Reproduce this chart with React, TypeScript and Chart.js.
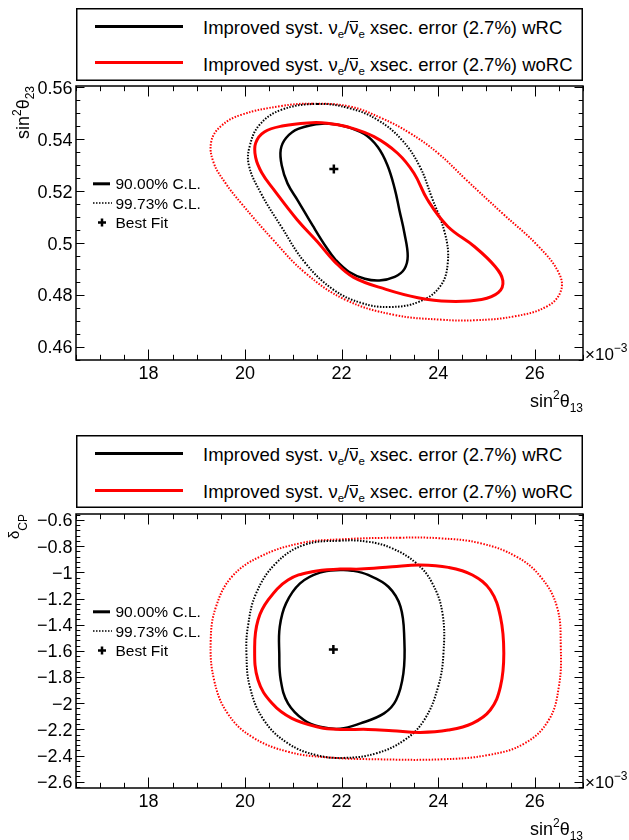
import React, { useEffect, useRef } from 'react';
import { Chart, registerables } from 'chart.js';

Chart.register(...registerables);

const FONT = '"Liberation Sans", Arial, Helvetica, sans-serif';

// ---------------- shared x axis: sin^2(theta13) (x 1e-3) ----------------
const X_MIN = 16.5;
const X_MAX = 27.0;
const xTickValues = [18, 20, 22, 24, 26];
const xTickLabels = ['18', '20', '22', '24', '26'];

// ---------------- panel 1: sin^2(theta23) ----------------
const th23TickValues = [0.46, 0.48, 0.5, 0.52, 0.54, 0.56];
const th23TickLabels = ['0.46', '0.48', '0.5', '0.52', '0.54', '0.56'];

// wRC 90% (black solid)
const th23_wRC90_x = [21.60, 21.10, 20.85, 20.74, 20.76, 20.88, 21.10, 21.40, 21.68, 21.88, 22.15, 22.48, 22.78, 23.10, 23.30, 23.37, 23.30, 23.20, 23.10, 22.95, 22.75, 22.47, 22.06];
const th23_wRC90_y = [0.5460, 0.5440, 0.5405, 0.5360, 0.5300, 0.5230, 0.5162, 0.5068, 0.4985, 0.4935, 0.4890, 0.4863, 0.4856, 0.4870, 0.4900, 0.4950, 0.5040, 0.5125, 0.5210, 0.5300, 0.5370, 0.5420, 0.5450];
// wRC 99.73% (black dotted)
const th23_wRC997_x = [21.50, 20.75, 20.30, 20.10, 20.08, 20.33, 20.75, 21.25, 21.83, 22.42, 23.00, 23.60, 24.04, 24.20, 24.14, 23.86, 23.62, 23.25, 22.75, 22.17];
const th23_wRC997_y = [0.5536, 0.5513, 0.5455, 0.5375, 0.5300, 0.5192, 0.5064, 0.4923, 0.4821, 0.4769, 0.4754, 0.4774, 0.4833, 0.4925, 0.5038, 0.5180, 0.5295, 0.5397, 0.5474, 0.5519];
// woRC 90% (red solid)
const th23_woRC90_x = [21.30, 20.80, 20.40, 20.22, 20.22, 20.35, 20.60, 21.08, 21.50, 21.85, 22.25, 22.92, 23.58, 24.21, 24.90, 25.25, 25.34, 25.18, 24.75, 24.20, 23.78, 23.50, 23.16, 22.67, 22.12, 21.70];
const th23_woRC90_y = [0.5463, 0.5452, 0.5428, 0.5385, 0.5330, 0.5270, 0.5205, 0.5090, 0.5005, 0.4930, 0.4868, 0.4822, 0.4790, 0.4776, 0.4783, 0.4810, 0.4855, 0.4910, 0.4987, 0.5064, 0.5167, 0.5269, 0.5346, 0.5410, 0.5448, 0.5462];
// woRC 99.73% (red dotted)
const th23_woRC997_x = [21.40, 20.75, 19.92, 19.50, 19.30, 19.35, 19.60, 19.92, 20.58, 21.25, 22.08, 23.08, 24.08, 24.75, 25.58, 26.25, 26.54, 26.50, 26.08, 25.33, 24.58, 24.00, 23.42, 22.83, 22.17];
const th23_woRC997_y = [0.5537, 0.5528, 0.5494, 0.5450, 0.5390, 0.5310, 0.5230, 0.5154, 0.5013, 0.4885, 0.4782, 0.4724, 0.4705, 0.4703, 0.4718, 0.4756, 0.4815, 0.4885, 0.4987, 0.5115, 0.5244, 0.5346, 0.5423, 0.5481, 0.5526];
const th23_best = { x: 21.84, y: 0.5285 };

// ---------------- panel 2: delta_CP ----------------
const dcpTickValues = [-0.6, -0.8, -1, -1.2, -1.4, -1.6, -1.8, -2, -2.2, -2.4, -2.6];
const dcpTickLabels = ['\u22120.6', '\u22120.8', '\u22121', '\u22121.2', '\u22121.4', '\u22121.6', '\u22121.8', '\u22122', '\u22122.2', '\u22122.4', '\u22122.6'];

const dcp_wRC90_x = [21.97, 21.55, 21.14, 20.85, 20.72, 20.71, 20.74, 20.89, 21.22, 21.55, 21.97, 22.39, 22.88, 23.13, 23.28, 23.30, 23.22, 22.97, 22.55, 22.22];
const dcp_wRC90_y = [-0.982, -1.002, -1.084, -1.237, -1.415, -1.619, -1.823, -2.001, -2.129, -2.180, -2.195, -2.154, -2.078, -1.976, -1.772, -1.517, -1.262, -1.110, -1.020, -0.987];
const dcp_wRC997_x = [21.97, 21.22, 20.64, 20.23, 20.06, 20.03, 20.10, 20.39, 20.89, 21.47, 22.05, 22.72, 23.30, 23.71, 24.00, 24.11, 24.09, 23.88, 23.55, 23.05, 22.55];
const dcp_wRC997_y = [-0.758, -0.791, -0.931, -1.161, -1.415, -1.619, -1.874, -2.129, -2.307, -2.396, -2.418, -2.383, -2.282, -2.129, -1.874, -1.619, -1.313, -1.084, -0.931, -0.817, -0.766];
const dcp_woRC90_x = [21.97, 21.39, 20.89, 20.48, 20.27, 20.20, 20.27, 20.56, 20.97, 21.55, 21.97, 22.55, 23.05, 23.63, 24.21, 24.71, 25.08, 25.29, 25.36, 25.29, 25.08, 24.71, 24.21, 23.63, 23.05, 22.39];
const dcp_woRC90_y = [-0.975, -0.995, -1.059, -1.211, -1.364, -1.568, -1.823, -2.001, -2.116, -2.185, -2.200, -2.200, -2.210, -2.223, -2.205, -2.154, -2.052, -1.874, -1.619, -1.339, -1.135, -1.020, -0.962, -0.944, -0.957, -0.975];
const dcp_woRC997_x = [23.22, 21.97, 21.14, 20.31, 19.73, 19.40, 19.29, 19.36, 19.64, 20.14, 20.89, 21.72, 22.80, 24.05, 25.04, 25.79, 26.29, 26.50, 26.54, 26.46, 26.12, 25.62, 24.88, 24.05];
const dcp_woRC997_y = [-0.735, -0.748, -0.778, -0.880, -1.033, -1.262, -1.517, -1.823, -2.078, -2.256, -2.371, -2.414, -2.429, -2.429, -2.396, -2.307, -2.129, -1.874, -1.568, -1.262, -1.033, -0.880, -0.778, -0.740];
const dcp_best = { x: 21.83, y: -1.59 };

const innerLegendLabels = ['90.00% C.L.', '99.73% C.L.', 'Best Fit'];
const bigLegendSuffixes = ['wRC', 'woRC'];

// ---------------- layout ----------------
const W = 629;
const H = 420;
const AREA_LEFT = 76;
const AREA_RIGHT = 583;

type Part = { t: string; size: number; dy?: number };

function drawRich(ctx: CanvasRenderingContext2D, parts: Part[], x: number, y: number, align: 'left' | 'right') {
  let w = 0;
  for (const p of parts) {
    ctx.font = `${p.size}px ${FONT}`;
    w += ctx.measureText(p.t).width;
  }
  let cx = align === 'right' ? x - w : x;
  ctx.textAlign = 'left';
  ctx.textBaseline = 'alphabetic';
  for (const p of parts) {
    ctx.font = `${p.size}px ${FONT}`;
    ctx.fillText(p.t, cx, y + (p.dy || 0));
    cx += ctx.measureText(p.t).width;
  }
}

function loopPlugin() {
  return {
    id: 'closedLoops',
    afterDatasetsUpdate(chart: any) {
      chart.data.datasets.forEach((ds: any, i: number) => {
        if (ds.closed) {
          const el = chart.getDatasetMeta(i).dataset;
          if (el) {
            el._loop = true;
            el._fullLoop = true;
            el._pointsUpdated = false;
            delete el._segments;
            delete el._path;
          }
        }
      });
    },
  };
}

type FrameCfg = {
  yTickValues: number[];
  yTickLabels: string[];
  yMinorStep: number;
  yTitle: Part[];
  yTitleX: number;
};

function framePlugin(cfg: FrameCfg) {
  return {
    id: 'rootFrame',
    afterDraw(chart: any) {
      const { ctx, chartArea: a, scales } = chart;
      const xs = scales.x;
      const ys = scales.y;
      ctx.save();
      ctx.strokeStyle = '#000';
      ctx.fillStyle = '#000';
      const seg = (x1: number, y1: number, x2: number, y2: number) => {
        ctx.beginPath();
        ctx.moveTo(x1, y1);
        ctx.lineTo(x2, y2);
        ctx.stroke();
      };
      // ticks
      ctx.lineWidth = 1;
      const xMaj = 10.5, xMin = 5.2, yMaj = 8.5, yMin = 4.3;
      const xStepMinor = (xTickValues[1] - xTickValues[0]) / 4;
      for (let k = -20; k <= 40; k++) {
        const v = xTickValues[0] + k * xStepMinor;
        if (v < X_MIN - 1e-9 || v > X_MAX + 1e-9) continue;
        const isMajor = Math.abs(k % 4) === 0;
        const len = isMajor ? xMaj : xMin;
        const p = Math.round(xs.getPixelForValue(v)) + 0.5;
        seg(p, a.bottom, p, a.bottom - len);
        seg(p, a.top, p, a.top + len);
      }
      const yv0 = cfg.yTickValues[0];
      const yMajStep = Math.abs(cfg.yTickValues[1] - cfg.yTickValues[0]);
      const nSub = Math.round(yMajStep / cfg.yMinorStep);
      for (let k = -200; k <= 200; k++) {
        const v = yv0 + k * cfg.yMinorStep;
        if (v < ys.min - 1e-9 || v > ys.max + 1e-9) continue;
        const isMajor = Math.abs(k % nSub) === 0;
        const len = isMajor ? yMaj : yMin;
        const p = Math.round(ys.getPixelForValue(v)) + 0.5;
        seg(a.left, p, a.left + len, p);
        seg(a.right, p, a.right - len, p);
      }
      // frame
      ctx.lineWidth = 1.5;
      ctx.strokeRect(a.left, a.top, a.right - a.left, a.bottom - a.top);
      // tick labels
      ctx.font = `18px ${FONT}`;
      ctx.textBaseline = 'alphabetic';
      ctx.textAlign = 'center';
      xTickValues.forEach((v, i) => {
        ctx.fillText(xTickLabels[i], xs.getPixelForValue(v), a.bottom + 18.5);
      });
      ctx.textAlign = 'right';
      cfg.yTickValues.forEach((v, i) => {
        ctx.fillText(cfg.yTickLabels[i], a.left - 3.5, ys.getPixelForValue(v) + 6.4);
      });
      // x title
      drawRich(ctx, [
        { t: 'sin', size: 18 },
        { t: '2', size: 12, dy: -8 },
        { t: '\u03b8', size: 18 },
        { t: '13', size: 12, dy: 5 },
      ], a.right, a.bottom + 47, 'right');
      // exponent
      drawRich(ctx, [
        { t: '\u00d710', size: 17 },
        { t: '\u22123', size: 12, dy: -8 },
      ], a.right + 2, a.bottom - 0.5, 'left');
      // y title (rotated)
      ctx.save();
      ctx.translate(cfg.yTitleX, a.top);
      ctx.rotate(-Math.PI / 2);
      drawRich(ctx, cfg.yTitle, 0, 0, 'right');
      ctx.restore();
      // inner legend
      const rows = [a.top + 97.8, a.top + 117, a.top + 136.5];
      ctx.lineWidth = 3;
      seg(93, rows[0], 110, rows[0]);
      ctx.lineWidth = 1.5;
      ctx.setLineDash([1.5, 1.5]);
      seg(93, rows[1], 112, rows[1]);
      ctx.setLineDash([]);
      ctx.lineWidth = 2.5;
      seg(98, rows[2], 106, rows[2]);
      seg(102, rows[2] - 4, 102, rows[2] + 4);
      ctx.font = `15.5px ${FONT}`;
      ctx.textAlign = 'left';
      innerLegendLabels.forEach((t, i) => ctx.fillText(t, 115.5, rows[i] + 5.6));
      ctx.restore();
    },
  };
}

function loopDs(xs: number[], ys: number[], color: string, width: number, dotted: boolean) {
  return {
    data: xs.map((x, i) => ({ x, y: ys[i] })),
    showLine: true,
    closed: true,
    borderColor: color,
    backgroundColor: color,
    borderWidth: width,
    borderDash: dotted ? [1.5, 1.5] : [],
    borderCapStyle: 'butt',
    borderJoinStyle: 'round',
    pointRadius: 0,
    pointHoverRadius: 0,
    tension: 0.4,
    fill: false,
  };
}

function bestDs(p: { x: number; y: number }) {
  return {
    data: [p],
    showLine: false,
    pointStyle: 'cross',
    pointRadius: 4.5,
    pointBorderWidth: 2.5,
    pointBorderColor: '#000',
    pointBackgroundColor: '#000',
  };
}

type PanelDef = {
  top: number;
  legendTop: number;
  areaTop: number;
  areaBottom: number;
  yMin: number;
  yMax: number;
  datasets: any[];
  frame: FrameCfg;
};

const panels: PanelDef[] = [
  {
    top: 0,
    legendTop: 7.5,
    areaTop: 86,
    areaBottom: 360,
    yMin: 0.455,
    yMax: 0.5605,
    datasets: [
      bestDs(th23_best),
      loopDs(th23_woRC90_x, th23_woRC90_y, '#ff0000', 3, false),
      loopDs(th23_wRC90_x, th23_wRC90_y, '#000000', 2.5, false),
      loopDs(th23_wRC997_x, th23_wRC997_y, '#000000', 2, true),
      loopDs(th23_woRC997_x, th23_woRC997_y, '#ff0000', 2, true),
    ],
    frame: {
      yTickValues: th23TickValues,
      yTickLabels: th23TickLabels,
      yMinorStep: 0.005,
      yTitle: [
        { t: 'sin', size: 18 },
        { t: '2', size: 12, dy: -8 },
        { t: '\u03b8', size: 18 },
        { t: '23', size: 12, dy: 5 },
      ],
      yTitleX: 28.5,
    },
  },
  {
    top: 420,
    legendTop: 14.7,
    areaTop: 94,
    areaBottom: 368,
    yMin: -2.648,
    yMax: -0.554,
    datasets: [
      bestDs(dcp_best),
      loopDs(dcp_woRC90_x, dcp_woRC90_y, '#ff0000', 3, false),
      loopDs(dcp_wRC90_x, dcp_wRC90_y, '#000000', 2.5, false),
      loopDs(dcp_wRC997_x, dcp_wRC997_y, '#000000', 2, true),
      loopDs(dcp_woRC997_x, dcp_woRC997_y, '#ff0000', 2, true),
    ],
    frame: {
      yTickValues: dcpTickValues,
      yTickLabels: dcpTickLabels,
      yMinorStep: 0.04,
      yTitle: [
        { t: '\u03b4', size: 15 },
        { t: 'CP', size: 12, dy: 8 },
      ],
      yTitleX: 18.7,
    },
  },
];

const subStyle: React.CSSProperties = { fontSize: '0.62em', verticalAlign: '-0.32em', lineHeight: 0 };

function Nubar() {
  return (
    <span style={{ position: 'relative', display: 'inline-block' }}>
      {'\u03bd'}
      <span style={{ position: 'absolute', left: '0.06em', right: '0.04em', top: '0.17em', borderTop: '1.4px solid #000' }} />
    </span>
  );
}

function BigLegend({ top }: { top: number }) {
  const lineRows = [18.7, 55.4];
  const baseRows = [27.4, 64.1];
  const colors = ['#000000', '#ff0000'];
  return (
    <div
      style={{
        position: 'absolute',
        left: AREA_LEFT,
        top,
        width: AREA_RIGHT - AREA_LEFT,
        height: 73.5,
        background: '#fff',
        boxShadow: 'inset 0 0 0 1.5px #000',
      }}
    >
      {bigLegendSuffixes.map((suf, i) => (
        <React.Fragment key={suf}>
          <div style={{ position: 'absolute', left: 19, width: 88, top: lineRows[i] - 1.5, height: 3, background: colors[i] }} />
          <div
            style={{
              position: 'absolute',
              left: 127,
              top: baseRows[i] - 16.8,
              fontFamily: FONT,
              fontSize: 18.5,
              lineHeight: '20px',
              whiteSpace: 'nowrap',
              color: '#000',
            }}
          >
            Improved syst. {'\u03bd'}
            <span style={subStyle}>e</span>/<Nubar />
            <span style={subStyle}>e</span> xsec. error (2.7%) {suf}
          </div>
        </React.Fragment>
      ))}
    </div>
  );
}

function Panel({ def }: { def: PanelDef }) {
  const ref = useRef<HTMLCanvasElement>(null);
  useEffect(() => {
    if (!ref.current) return;
    const chart = new Chart(ref.current, {
      type: 'scatter',
      data: { datasets: def.datasets as any },
      options: {
        animation: false,
        responsive: false,
        devicePixelRatio: 1,
        events: [],
        layout: { padding: { left: 0, top: def.areaTop, right: W - AREA_RIGHT, bottom: 0 } },
        plugins: { legend: { display: false }, tooltip: { enabled: false }, title: { display: false } },
        scales: {
          x: {
            type: 'linear',
            min: X_MIN,
            max: X_MAX,
            grid: { display: false },
            border: { display: false },
            ticks: { display: false },
            afterBuildTicks: (s: any) => {
              s.ticks = xTickValues.map((v) => ({ value: v }));
            },
            afterFit: (s: any) => {
              s.height = H - def.areaBottom;
            },
          },
          y: {
            type: 'linear',
            min: def.yMin,
            max: def.yMax,
            grid: { display: false },
            border: { display: false },
            ticks: { display: false },
            afterBuildTicks: (s: any) => {
              s.ticks = def.frame.yTickValues.map((v) => ({ value: v }));
            },
            afterFit: (s: any) => {
              s.width = AREA_LEFT;
            },
          },
        },
      } as any,
      plugins: [loopPlugin(), framePlugin(def.frame)] as any,
    });
    return () => chart.destroy();
  }, []);
  return (
    <div style={{ position: 'absolute', left: 0, top: def.top, width: W, height: H }}>
      <canvas ref={ref} width={W} height={H} style={{ position: 'absolute', left: 0, top: 0, width: W, height: H }} />
      <BigLegend top={def.legendTop} />
    </div>
  );
}

export default function App() {
  return (
    <div style={{ position: 'absolute', left: 0, top: 0, width: W, height: 2 * H, background: '#fff', overflow: 'hidden' }}>
      {panels.map((p, i) => (
        <Panel key={i} def={p} />
      ))}
    </div>
  );
}
